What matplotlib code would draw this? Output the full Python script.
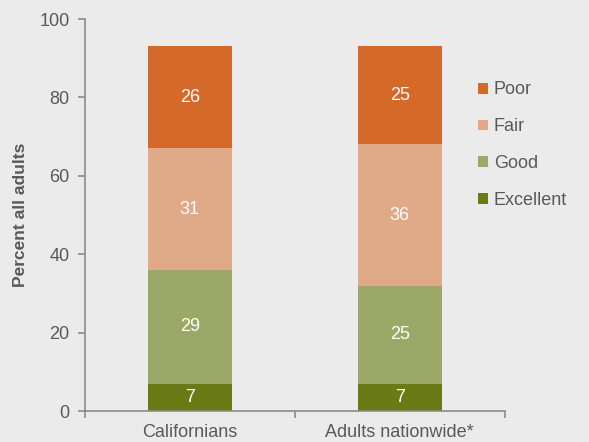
import numpy as np
import matplotlib

matplotlib.use("Agg")
import matplotlib.pyplot as plt  # noqa: E402
from matplotlib.patches import Patch  # noqa: E402

plt.rcParams["font.family"] = ["Liberation Sans", "DejaVu Sans"]

GROUPS = ["Californians", "Adults nationwide*"]
LEVELS = ["Excellent", "Good", "Fair", "Poor"]
VALUES = {
    "Excellent": [7, 7],
    "Good": [29, 25],
    "Fair": [31, 36],
    "Poor": [26, 25],
}
COLORS = {
    "Excellent": "#6A7A14",
    "Good": "#9CA868",
    "Fair": "#E0A987",
    "Poor": "#D4692A",
}
BG = "#EBEBEB"
TEXT = "#595959"
AXIS = "#8C8C8C"

fig = plt.figure(figsize=(5.89, 4.42), dpi=100, facecolor=BG)
ax = fig.add_axes([0.144, 0.070, 0.713, 0.887], facecolor=BG)

x = np.arange(len(GROUPS))
bottom = np.zeros(len(GROUPS))
for level in LEVELS:
    vals = np.array(VALUES[level], dtype=float)
    ax.bar(x, vals, width=0.4, bottom=bottom, color=COLORS[level], linewidth=0)
    for xi, b, v in zip(x, bottom, vals):
        ax.text(xi, b + v / 2, f"{v:.0f}", ha="center", va="center",
                color="white", fontsize=13)
    bottom += vals

ax.set_xlim(-0.5, 1.5)
ax.set_ylim(0, 100)
ax.set_yticks([0, 20, 40, 60, 80, 100])
ax.set_xticks(x)
ax.set_xticklabels(GROUPS)
ax.set_xticks([-0.5, 0.5, 1.5], minor=True)
ax.tick_params(axis="x", which="major", length=0, pad=9, labelsize=13, labelcolor=TEXT)
ax.tick_params(axis="x", which="minor", length=5, width=1.2, color=AXIS)
ax.tick_params(axis="y", length=5, width=1.2, color=AXIS, labelsize=13, labelcolor=TEXT, pad=6)
ax.set_ylabel("Percent all adults", fontsize=12.5, fontweight="bold", color=TEXT, labelpad=8)

for side in ["top", "right"]:
    ax.spines[side].set_visible(False)
for side in ["left", "bottom"]:
    ax.spines[side].set_color(AXIS)
    ax.spines[side].set_linewidth(1.2)

handles = [Patch(facecolor=COLORS[l], edgecolor="none") for l in reversed(LEVELS)]
fig.legend(handles, list(reversed(LEVELS)), loc="upper left",
           bbox_to_anchor=(0.80, 0.832), frameon=False, fontsize=13,
           labelcolor=TEXT, handlelength=0.55, handleheight=0.55,
           handletextpad=0.3, labelspacing=1.1, borderaxespad=0)

fig.savefig("out.png", dpi=100, facecolor=BG)
